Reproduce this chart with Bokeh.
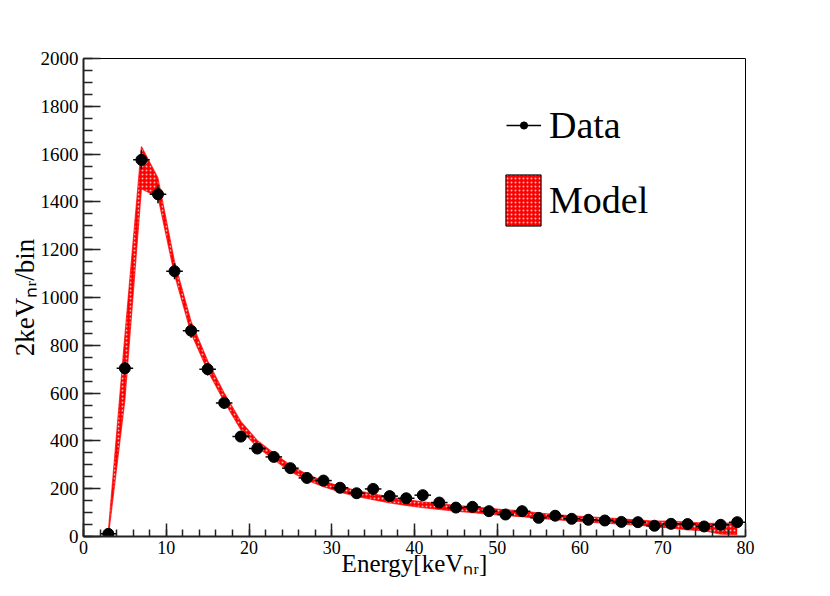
import numpy as np
from bokeh.plotting import figure
from bokeh.models import (Range1d, SingleIntervalTicker, Legend, LegendItem)
from bokeh.embed import file_html
from bokeh.resources import INLINE

# ---- data ----
energy = [3, 5, 7, 9, 11, 13, 15, 17, 19, 21, 23, 25, 27, 29, 31, 33, 35, 37, 39,
          41, 43, 45, 47, 49, 51, 53, 55, 57, 59, 61, 63, 65, 67, 69, 71, 73, 75, 77, 79]
counts = [11, 704, 1576, 1432, 1110, 861, 700, 559, 418, 368, 333, 286, 245, 234, 204,
          181, 199, 169, 160, 173, 142, 121, 124, 106, 92, 106, 78, 87, 74, 70, 67, 61,
          60, 45, 53, 52, 42, 49, 60]
model_low = [0, 570, 1455, 1420, 1095, 850, 695, 565, 448, 374, 322, 272, 236, 208, 186,
             168, 154, 141, 130, 121, 113, 106, 100, 94, 88, 83, 76, 71, 65, 60, 56, 52,
             48, 40, 36, 28, 24, 10, 8]
model_high = [20, 840, 1632, 1500, 1150, 900, 735, 600, 482, 402, 348, 298, 260, 232, 210,
              192, 178, 165, 154, 145, 137, 130, 124, 118, 112, 107, 98, 92, 86, 82, 78, 74,
              69, 64, 64, 60, 56, 54, 58]
bin_half_width = 1.0
x_title = "Energy[keV\u2099\u1d63]"
y_title = "2keV\u2099\u1d63/bin"

x = np.array(energy, dtype=float)
y = np.array(counts, dtype=float)
yerr = np.sqrt(y)

FONT = "Liberation Serif"
RED = "#ff0000"

p = figure(width=814, height=580, x_range=Range1d(0, 80), y_range=Range1d(0, 2000),
           output_backend="svg", toolbar_location=None,
           min_border_left=83, min_border_right=69, min_border_top=58, min_border_bottom=44)
p.xgrid.visible = False
p.ygrid.visible = False
p.outline_line_color = "black"
p.outline_line_width = 1
p.background_fill_color = "white"
p.border_fill_color = "white"

p.xaxis.ticker = SingleIntervalTicker(interval=10, num_minor_ticks=5)
p.yaxis.ticker = SingleIntervalTicker(interval=200, num_minor_ticks=4)
for ax in (p.xaxis[0], p.yaxis[0]):
    ax.axis_line_width = 2
    ax.axis_line_color = "#222222"
    ax.major_tick_line_color = "#222222"
    ax.minor_tick_line_color = "#222222"
    ax.major_tick_line_width = 1.5
    ax.minor_tick_line_width = 1.5
    ax.major_tick_out = 0
    ax.minor_tick_out = 0
    ax.major_label_text_font = FONT
    ax.major_label_text_color = "black"
    ax.axis_label_text_font = FONT
    ax.axis_label_text_font_style = "normal"
    ax.axis_label_text_color = "black"
p.xaxis.major_label_text_font_size = "18px"
p.yaxis.major_label_text_font_size = "19px"
p.xaxis.axis_label_text_font_size = "25px"
p.yaxis.axis_label_text_font_size = "27px"
p.xaxis.major_tick_in = 13
p.xaxis.minor_tick_in = 7
p.yaxis.major_tick_in = 17
p.yaxis.minor_tick_in = 9
p.xaxis.major_label_standoff = 4
p.yaxis.major_label_standoff = 5
p.xaxis.axis_label = x_title
p.yaxis.axis_label = y_title
p.xaxis.axis_label_standoff = -7
p.yaxis.axis_label_standoff = -2

# model band
band_style = dict(fill_color=RED, hatch_pattern="dot", hatch_color="white",
                  hatch_scale=4, hatch_weight=1.2, hatch_alpha=0.7)
band = p.varea(x=x, y1=model_low, y2=model_high, **band_style)
p.line(x=x, y=model_low, line_color=RED, line_width=1.2, line_alpha=0.7)
p.line(x=x, y=model_high, line_color=RED, line_width=1.2, line_alpha=0.7)

# data with error bars
hseg = p.segment(x0=x - bin_half_width, x1=x + bin_half_width, y0=y, y1=y,
                 line_color="black", line_width=1.5)
vseg = p.segment(x0=x, x1=x, y0=y - yerr, y1=y + yerr, line_color="black", line_width=1.5)
dots = p.scatter(x=x, y=y, size=11, fill_color="black", line_color="black")

# invisible legend proxy (NaN coordinates) for the outlined model box
nan = [float("nan")]
proxy = p.quad(left=nan, right=nan, bottom=nan, top=nan, line_color="black",
               line_width=1, **band_style)

common = dict(label_text_font=FONT, label_text_font_size="38px", padding=0, margin=0,
              border_line_alpha=0, background_fill_alpha=0, spacing=0,
              label_text_color="black")
leg1 = Legend(items=[LegendItem(label="Data", renderers=[hseg, dots])],
              location=(423, 389), glyph_width=35, glyph_height=18, label_standoff=8, **common)
leg2 = Legend(items=[LegendItem(label="Model", renderers=[proxy])],
              location=(418, 304), glyph_width=44, glyph_height=64, label_standoff=4, **common)
p.add_layout(leg1)
p.add_layout(leg2)

open("out.html", "w").write(file_html(p, INLINE))
